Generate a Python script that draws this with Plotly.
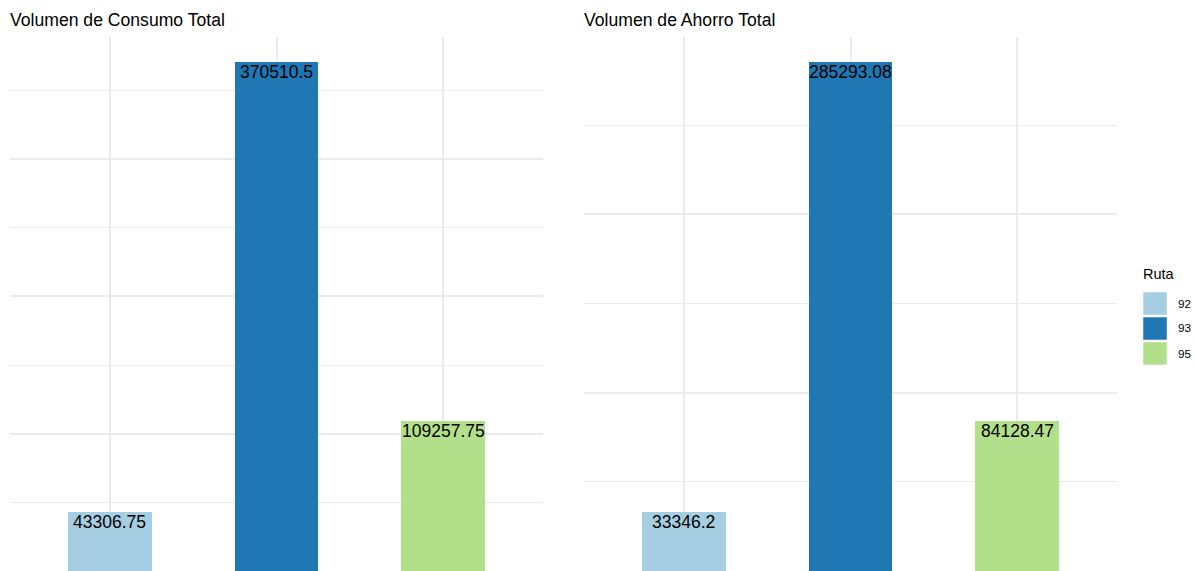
import plotly.graph_objects as go

# ---- data ----
rutas = ["92", "93", "95"]
consumo_total = [43306.75, 370510.5, 109257.75]
ahorro_total = [33346.2, 285293.08, 84128.47]
colores = ["#A6CEE3", "#1F78B4", "#B2DF8A"]
titulos = ["Volumen de Consumo Total", "Volumen de Ahorro Total"]
legend_title = "Ruta"

W, H = 1196, 571
FONT = "Liberation Sans, Arial, sans-serif"
GRID = "#EBEBEB"

fig = go.Figure()

panels = [("x", "y", consumo_total), ("x2", "y2", ahorro_total)]
for xa, ya, vals in panels:
    fig.add_trace(go.Bar(
        x=rutas, y=vals, width=0.5,
        marker=dict(color=colores, line=dict(width=0)),
        xaxis=xa, yaxis=ya, showlegend=False, hoverinfo="x+y",
    ))
    for i, v in enumerate(vals):
        fig.add_annotation(
            x=i, y=v, xref=xa, yref=ya, text=str(v),
            showarrow=False, yanchor="top", xanchor="center", yshift=2,
            font=dict(family=FONT, size=17.5, color="#000000"),
        )

# panel titles
title_x = [8, 582]
for t, px in zip(titulos, title_x):
    fig.add_annotation(
        x=px / W, y=1 - 7.5 / H, xref="paper", yref="paper", text=t,
        showarrow=False, xanchor="left", yanchor="top",
        font=dict(family=FONT, size=17.6, color="#000000"),
    )

# manual legend
fig.add_annotation(
    x=1140.5 / W, y=1 - 264 / H, xref="paper", yref="paper", text=legend_title,
    showarrow=False, xanchor="left", yanchor="top",
    font=dict(family=FONT, size=14.5, color="#000000"),
)
key_top = 291
key_h = 25
for i, (r, c) in enumerate(zip(rutas, colores)):
    y0 = key_top + i * key_h
    fig.add_shape(
        type="rect", xref="paper", yref="paper",
        x0=1142.5 / W, x1=1167.5 / W,
        y0=1 - (y0 + key_h - 0.5) / H, y1=1 - (y0 + 0.5) / H,
        fillcolor=c, line=dict(color="#FFFFFF", width=1.5),
    )
    fig.add_annotation(
        x=1175.5 / W, y=1 - (y0 + key_h / 2 - 0.5) / H, xref="paper", yref="paper",
        text=r, showarrow=False, xanchor="left", yanchor="middle",
        font=dict(family=FONT, size=11.7, color="#000000"),
    )

top_frac = 1 - 37 / H
axis_common = dict(showticklabels=False, ticks="", zeroline=False, showline=False)
fig.update_layout(
    width=W, height=H,
    margin=dict(l=0, r=0, t=0, b=0),
    paper_bgcolor="white", plot_bgcolor="white",
    bargap=0,
    xaxis=dict(domain=[10 / W, 543 / W], type="category", range=[-0.6, 2.6],
               showgrid=True, gridcolor=GRID, gridwidth=1.7, anchor="y", **axis_common),
    xaxis2=dict(domain=[584 / W, 1117 / W], type="category", range=[-0.6, 2.6],
                showgrid=True, gridcolor=GRID, gridwidth=1.7, anchor="y2", **axis_common),
    yaxis=dict(domain=[0, top_frac], range=[0, max(consumo_total) * 1.05],
               dtick=100000, tick0=0, showgrid=True, gridcolor=GRID, gridwidth=1.7,
               minor=dict(dtick=50000, showgrid=True, gridcolor=GRID, gridwidth=1),
               anchor="x", **axis_common),
    yaxis2=dict(domain=[0, top_frac], range=[0, max(ahorro_total) * 1.05],
                dtick=100000, tick0=0, showgrid=True, gridcolor=GRID, gridwidth=1.7,
                minor=dict(dtick=50000, showgrid=True, gridcolor=GRID, gridwidth=1),
                anchor="x2", **axis_common),
)

fig.write_html("out.html", config={"displayModeBar": False},
               post_script="document.body.style.margin='0';")
